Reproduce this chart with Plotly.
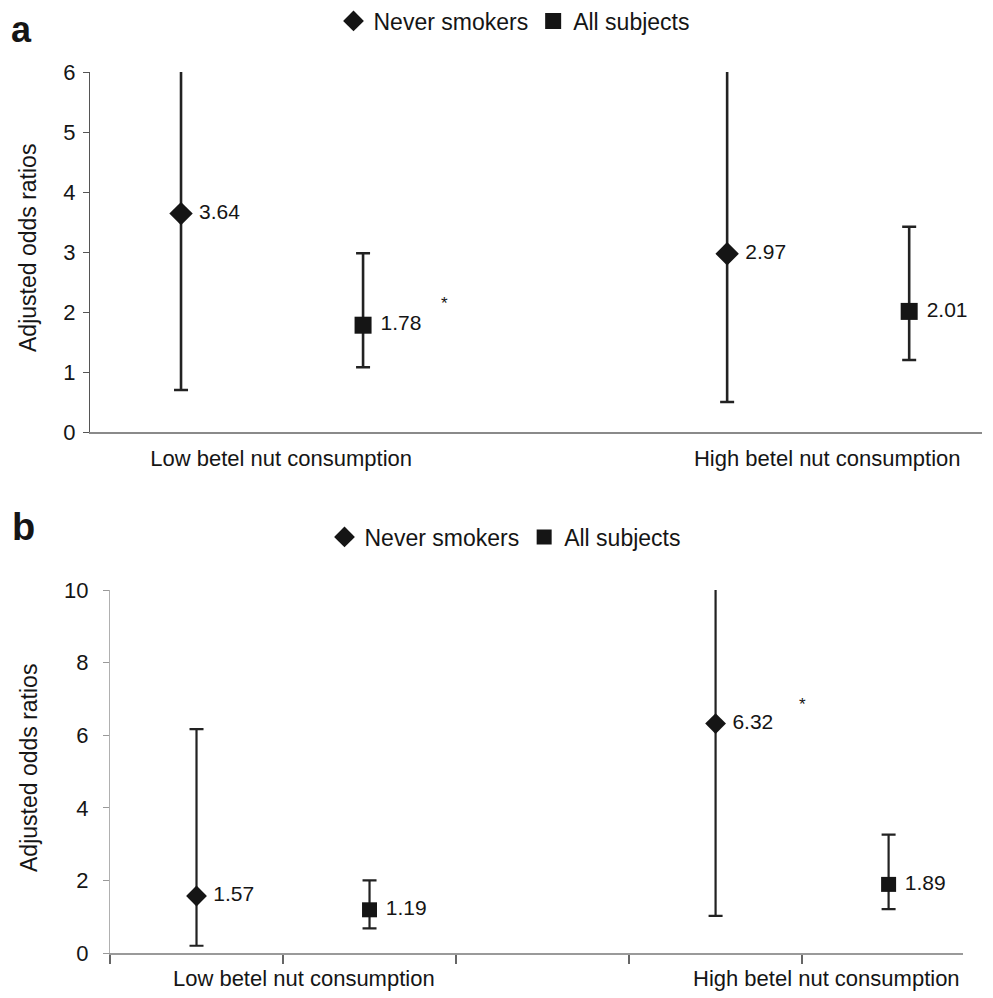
import plotly.graph_objects as go

# ---------------- data ----------------
groups = ["Low betel nut consumption", "High betel nut consumption"]
series_names = ["Never smokers", "All subjects"]

# panel a
a_never = [3.64, 2.97]
a_never_lo = [0.70, 0.50]
a_never_hi = [6.40, 6.40]   # run beyond the top of the axis
a_all = [1.78, 2.01]
a_all_lo = [1.08, 1.20]
a_all_hi = [2.98, 3.42]

# panel b
b_never = [1.57, 6.32]
b_never_lo = [0.20, 1.02]
b_never_hi = [6.17, 10.60]  # runs beyond the top of the axis
b_all = [1.19, 1.89]
b_all_lo = [0.68, 1.21]
b_all_hi = [2.00, 3.26]

a_yticks = [0, 1, 2, 3, 4, 5, 6]
b_yticks = [0, 2, 4, 6, 8, 10]

FONT = "Liberation Sans, Arial, Helvetica, sans-serif"
INK = "#151515"
OFF = 8                      # page offset of the plot div
W, H = 993 - OFF, 998 - OFF

# category slot positions: each group uses two slots with one empty slot between groups
def slot(g, s):
    return 3 * g + s + 0.5

fig = go.Figure()

def add_panel(never, nlo, nhi, allv, alo, ahi, xa, ya, legend, msize_d, msize_s, lw):
    xs_d = [slot(g, 0) for g in range(len(groups))]
    xs_s = [slot(g, 1) for g in range(len(groups))]
    fig.add_trace(go.Scatter(
        x=xs_d, y=never, mode="markers+text", name=series_names[0],
        text=[f" {v:.2f}" for v in never], textposition="middle right",
        textfont=dict(size=21, color=INK, family=FONT),
        marker=dict(symbol="diamond", size=msize_d, color=INK),
        error_y=dict(type="data", symmetric=False,
                     array=[h - v for h, v in zip(nhi, never)],
                     arrayminus=[v - l for l, v in zip(nlo, never)],
                     color="#222222", thickness=lw, width=7),
        xaxis=xa, yaxis=ya, legend=legend, cliponaxis=True))
    fig.add_trace(go.Scatter(
        x=xs_s, y=allv, mode="markers+text", name=series_names[1],
        text=[f" {v:.2f}" for v in allv], textposition="middle right",
        textfont=dict(size=21, color=INK, family=FONT),
        marker=dict(symbol="square", size=msize_s, color=INK),
        error_y=dict(type="data", symmetric=False,
                     array=[h - v for h, v in zip(ahi, allv)],
                     arrayminus=[v - l for l, v in zip(alo, allv)],
                     color="#222222", thickness=lw, width=7),
        xaxis=xa, yaxis=ya, legend=legend, cliponaxis=True))

add_panel(a_never, a_never_lo, a_never_hi, a_all, a_all_lo, a_all_hi, "x", "y", "legend", 18, 17, 2.6)
add_panel(b_never, b_never_lo, b_never_hi, b_all, b_all_lo, b_all_hi, "x2", "y2", "legend2", 16, 15, 2.2)

def px_x(p):
    return (p - OFF) / W

def px_y(p):
    return 1 - (p - OFF) / H

label_pos = [slot(g, 0) + 0.55 for g in range(len(groups))]

common_x = dict(showgrid=False, zeroline=False, showline=True, linewidth=1.5,
                tickfont=dict(size=22, family=FONT, color=INK), automargin=False)
common_y = dict(showgrid=False, zeroline=False, showline=True, ticks="outside",
                ticklen=6, tickwidth=1.3, tickfont=dict(size=22, family=FONT, color=INK),
                automargin=False)

fig.update_layout(
    width=W, height=H,
    margin=dict(l=0, r=0, t=0, b=0, autoexpand=False),
    paper_bgcolor="white", plot_bgcolor="white",
    font=dict(family=FONT, color=INK),
    xaxis=dict(common_x, domain=[px_x(90), px_x(982)], range=[0, 4.9],
               linecolor="#8a8a8a", tickvals=label_pos, ticktext=groups,
               ticks="", ticklabelstandoff=6, anchor="y"),
    yaxis=dict(common_y, domain=[px_y(432), px_y(72)], range=[0, 6],
               tickvals=a_yticks, linecolor="#555555", tickcolor="#555555",
               ticklabelstandoff=3, anchor="x"),
    xaxis2=dict(common_x, domain=[px_x(110), px_x(963)], range=[0, 4.93],
                linecolor="#9a9a9a", tickvals=[label_pos[0] + 0.07, label_pos[1] + 0.09],
                ticktext=groups, ticks="", ticklabelstandoff=5,
                minor=dict(tickvals=[0, 1, 2, 3, 4], ticks="outside", ticklen=9,
                           tickwidth=1.5, tickcolor="#666666"),
                anchor="y2"),
    yaxis2=dict(common_y, domain=[px_y(953), px_y(590)], range=[0, 10],
                tickvals=b_yticks, linecolor="#b0b0b0", tickcolor="#999999",
                ticklabelstandoff=10, anchor="x2"),
    legend=dict(orientation="h", x=px_x(514), y=px_y(21), xanchor="center", yanchor="middle",
                font=dict(size=23, family=FONT, color=INK), itemwidth=30,
                bgcolor="rgba(0,0,0,0)", traceorder="normal"),
    legend2=dict(orientation="h", x=px_x(505), y=px_y(537), xanchor="center", yanchor="middle",
                 font=dict(size=23, family=FONT, color=INK), itemwidth=30,
                 bgcolor="rgba(0,0,0,0)", traceorder="normal"),
)

annos = [
    dict(text="<b>a</b>", x=px_x(10), y=1.0, xref="paper", yref="paper",
         xanchor="left", yanchor="top", borderpad=0, showarrow=False,
         font=dict(size=36, family=FONT, color=INK)),
    dict(text="<b>b</b>", x=px_x(10), y=px_y(527), xref="paper", yref="paper",
         xanchor="left", yanchor="middle", showarrow=False, font=dict(size=38, family=FONT, color=INK)),
    dict(text="Adjusted odds ratios", x=px_x(28), y=px_y(248), xref="paper", yref="paper",
         xanchor="center", yanchor="middle",
         textangle=-90, showarrow=False, font=dict(size=23, family=FONT, color=INK)),
    dict(text="Adjusted odds ratios", x=px_x(29), y=px_y(768), xref="paper", yref="paper",
         xanchor="center", yanchor="middle",
         textangle=-90, showarrow=False, font=dict(size=23, family=FONT, color=INK)),
    # significance markers
    dict(text="*", x=1.95, y=2.15, xref="x", yref="y", showarrow=False,
         font=dict(size=17, family=FONT, color=INK)),
    dict(text="*", x=4.92, y=2.45, xref="x", yref="y", showarrow=False,
         font=dict(size=17, family=FONT, color=INK)),
    dict(text="*", x=4.0, y=6.85, xref="x2", yref="y2", showarrow=False,
         font=dict(size=17, family=FONT, color=INK)),
    dict(text="*", x=4.98, y=2.6, xref="x2", yref="y2", showarrow=False,
         font=dict(size=17, family=FONT, color=INK)),
]
fig.update_layout(annotations=annos)

fig.write_html("out.html")
